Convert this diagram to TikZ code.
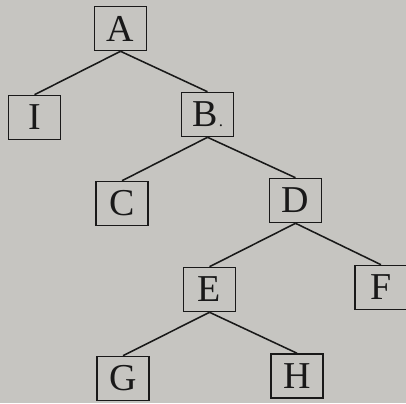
\documentclass[tikz,border=0pt]{standalone}
\usepackage{fontspec}
\setmainfont{Liberation Serif}
\usepackage{tikz}
\usetikzlibrary{positioning}

\definecolor{paper}{RGB}{198,197,193}
\definecolor{ink}{RGB}{25,25,25}

\begin{document}
\begin{tikzpicture}[
    x=0.025cm, y=-0.025cm,
    font=\fontsize{27}{30}\selectfont,
    treenode/.style={draw=ink, text=ink, fill=paper, minimum width=1.3cm, minimum height=1.1cm, inner sep=0pt, line width=1.1pt},
    branch/.style={draw=ink, line width=1.1pt}
]

% page background
\fill[paper] (0,0) rectangle (406,403);
\useasboundingbox (0,0) rectangle (406,403);

% nodes
\node[treenode] (A) at (120.5,28.5) {A};
\node[treenode] (I) at (34.5,117.5) {I};
\node[treenode] (B) at (207.5,114.5) {B\kern1pt{\fontsize{12}{14}\selectfont.}};
\node[treenode] (C) at (122,203.5) {C};
\node[treenode] (D) at (295.5,200.5) {D};
\node[treenode] (E) at (209.5,289.5) {E};
\node[treenode] (F) at (381,287.5) {F};
\node[treenode] (G) at (123,378.5) {G};
\node[treenode] (H) at (297,376) {H};

% branches
\draw[branch] (A.south) -- (I.north);
\draw[branch] (A.south) -- (B.north);
\draw[branch] (B.south) -- (C.north);
\draw[branch] (B.south) -- (D.north);
\draw[branch] (D.south) -- (E.north);
\draw[branch] (D.south) -- (F.north);
\draw[branch] (E.south) -- (G.north);
\draw[branch] (E.south) -- (H.north);

\end{tikzpicture}
\end{document}
